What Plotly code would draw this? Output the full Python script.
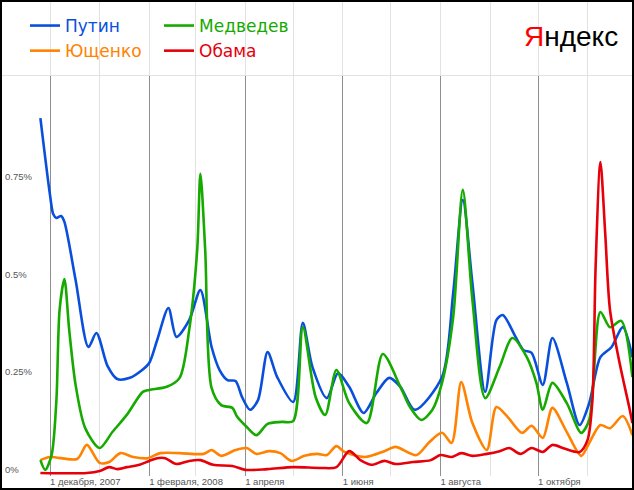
import plotly.graph_objects as go

# ---------------- data (values in %) ----------------
putin_dates = ["2007-11-25","2007-12-01","2007-12-03","2007-12-05","2007-12-08","2007-12-10","2007-12-17",
               "2007-12-25","2007-12-30","2008-01-06","2008-01-12","2008-01-20","2008-01-27","2008-02-01",
               "2008-02-06","2008-02-13","2008-02-18","2008-02-26","2008-03-04","2008-03-11","2008-03-16",
               "2008-03-21","2008-03-26","2008-03-30","2008-04-04","2008-04-09","2008-04-15","2008-04-21",
               "2008-05-01","2008-05-07","2008-05-13","2008-05-22","2008-05-29","2008-06-05","2008-06-14",
               "2008-06-22","2008-06-30","2008-07-07","2008-07-16","2008-08-02","2008-08-09","2008-08-15",
               "2008-08-21","2008-08-29","2008-09-05","2008-09-09","2008-09-17","2008-09-22","2008-09-27",
               "2008-10-04","2008-10-10","2008-10-19","2008-10-27","2008-11-02","2008-11-09","2008-11-16",
               "2008-11-23","2008-11-29"]
putin_vals = [0.910,0.713,0.664,0.654,0.659,0.644,0.495,
              0.323,0.359,0.274,0.241,0.244,0.262,0.282,
              0.341,0.423,0.349,0.392,0.469,0.323,0.264,
              0.238,0.236,0.195,0.162,0.187,0.310,0.246,
              0.182,0.385,0.272,0.192,0.256,0.221,0.154,
              0.205,0.244,0.221,0.162,0.246,0.462,0.700,
              0.487,0.208,0.392,0.405,0.349,0.315,0.308,
              0.226,0.346,0.231,0.123,0.179,0.297,0.323,
              0.374,0.297]

medvedev_dates = ["2007-11-25","2007-11-28","2007-12-02","2007-12-05","2007-12-07","2007-12-10","2007-12-13",
                  "2007-12-17","2007-12-23","2008-01-01","2008-01-09","2008-01-18","2008-01-28","2008-02-01",
                  "2008-02-12","2008-02-20","2008-02-26","2008-03-02","2008-03-04","2008-03-07","2008-03-11",
                  "2008-03-17","2008-03-24","2008-03-27","2008-04-02","2008-04-08","2008-04-15","2008-04-24",
                  "2008-05-01","2008-05-07","2008-05-15","2008-05-21","2008-05-28","2008-06-05","2008-06-16",
                  "2008-06-26","2008-07-07","2008-07-13","2008-07-20","2008-07-27","2008-08-02","2008-08-09",
                  "2008-08-15","2008-08-21","2008-08-29","2008-09-07","2008-09-15","2008-09-24","2008-09-30",
                  "2008-10-04","2008-10-10","2008-10-19","2008-10-28","2008-11-02","2008-11-09","2008-11-15",
                  "2008-11-22","2008-11-29"]
medvedev_vals = [0.033,0.008,0.046,0.187,0.418,0.497,0.367,
                 0.226,0.115,0.064,0.105,0.149,0.208,0.213,
                 0.221,0.244,0.367,0.572,0.767,0.572,0.218,
                 0.174,0.167,0.144,0.118,0.097,0.126,0.131,
                 0.133,0.374,0.195,0.149,0.264,0.179,0.128,
                 0.305,0.221,0.169,0.136,0.162,0.231,0.400,
                 0.726,0.444,0.192,0.272,0.346,0.297,0.231,
                 0.162,0.231,0.179,0.103,0.136,0.413,0.374,
                 0.390,0.246]

yushchenko_dates = ["2007-11-25","2007-12-01","2007-12-18","2007-12-24","2008-01-01","2008-01-07","2008-01-14",
                    "2008-01-22","2008-01-31","2008-02-08","2008-02-20","2008-03-06","2008-03-11","2008-03-17",
                    "2008-03-26","2008-04-02","2008-04-08","2008-04-16","2008-04-23","2008-04-30","2008-05-08",
                    "2008-05-16","2008-05-22","2008-05-28","2008-06-02","2008-06-15","2008-06-27","2008-07-04",
                    "2008-07-17","2008-07-25","2008-08-02","2008-08-08","2008-08-14","2008-08-21","2008-08-30",
                    "2008-09-05","2008-09-12","2008-09-21","2008-09-27","2008-10-04","2008-10-10","2008-10-19",
                    "2008-10-28","2008-11-02","2008-11-09","2008-11-15","2008-11-23","2008-11-29"]
yushchenko_vals = [0.033,0.041,0.036,0.072,0.026,0.028,0.051,
                   0.041,0.038,0.051,0.051,0.049,0.059,0.044,
                   0.059,0.064,0.049,0.056,0.051,0.031,0.044,
                   0.049,0.046,0.069,0.054,0.041,0.056,0.067,
                   0.046,0.079,0.103,0.077,0.233,0.128,0.059,
                   0.169,0.144,0.103,0.121,0.090,0.167,0.105,
                   0.044,0.077,0.123,0.115,0.146,0.097]

obama_dates = ["2007-11-25","2007-12-24","2008-01-01","2008-01-07","2008-01-12","2008-01-18","2008-01-26",
               "2008-02-01","2008-02-06","2008-02-11","2008-02-18","2008-02-26","2008-03-04","2008-03-12",
               "2008-03-24","2008-04-01","2008-04-15","2008-05-01","2008-05-18","2008-05-28","2008-06-05",
               "2008-06-12","2008-06-19","2008-06-27","2008-07-04","2008-07-15","2008-07-26","2008-08-01",
               "2008-08-08","2008-08-14","2008-08-21","2008-08-30","2008-09-07","2008-09-13","2008-09-20",
               "2008-09-27","2008-10-04","2008-10-10","2008-10-18","2008-10-27","2008-11-01","2008-11-04",
               "2008-11-06","2008-11-09","2008-11-12","2008-11-15","2008-11-21","2008-11-27","2008-11-29"]
obama_vals = [0.000,0.000,0.005,0.015,0.010,0.015,0.021,
              0.031,0.038,0.038,0.023,0.031,0.033,0.021,
              0.018,0.008,0.010,0.015,0.013,0.015,0.056,
              0.033,0.021,0.031,0.023,0.028,0.033,0.046,
              0.041,0.051,0.044,0.049,0.056,0.064,0.049,
              0.064,0.054,0.072,0.062,0.054,0.085,0.187,
              0.528,0.797,0.615,0.418,0.282,0.169,0.128]

tick_dates = ["2007-12-01", "2008-02-01", "2008-04-01", "2008-06-01", "2008-08-01", "2008-10-01"]
tick_labels = ["1 декабря, 2007", "1 февраля, 2008", "1 апреля", "1 июня", "1 августа", "1 октября"]
y_tick_vals = [0, 0.25, 0.5, 0.75]
y_tick_labels = ["0%", "0.25%", "0.5%", "0.75%"]

# ---------------- styling / geometry ----------------
W, H = 634, 490
L, R, T, B = 2, 2, 1, 14
PW, PH = W - L - R, H - T - B


def px_x(p):
    return (p - L) / PW


def px_y(p):
    return (H - B - p) / PH


ZERO_PX = 473
PX_PER_PCT = 390
SPLIT_PX = 75
BOTTOM_PX = H - B

C_BLUE = "#0a4fdc"
C_ORANGE = "#ff8200"
C_GREEN = "#16aa00"
C_RED = "#e6000a"

fig = go.Figure()


def add(name, xs, ys, color, legend):
    fig.add_trace(go.Scatter(
        x=xs, y=ys, mode="lines", line=dict(color=color, width=2.6, shape="spline", smoothing=0.8),
        name=f'<span style="color:{color}">{name}</span>', legend=legend, hoverinfo="skip"))


add("Путин", putin_dates, putin_vals, C_BLUE, "legend")
add("Ющенко", yushchenko_dates, yushchenko_vals, C_ORANGE, "legend")
add("Медведев", medvedev_dates, medvedev_vals, C_GREEN, "legend2")
add("Обама", obama_dates, obama_vals, C_RED, "legend2")

x_range = ["2007-11-01", "2008-11-28 18:00"]
tick_font = dict(family="Liberation Sans, Arial, sans-serif", size=9.5, color="#555555")
legend_font = dict(family="DejaVu Sans, Verdana, sans-serif", size=17)

fig.update_layout(
    width=W, height=H,
    margin=dict(l=L, r=R, t=T, b=B, pad=0),
    paper_bgcolor="white", plot_bgcolor="white",
    xaxis=dict(
        type="date", range=x_range, anchor="y",
        tickmode="array", tickvals=tick_dates, ticktext=tick_labels,
        ticklabelposition="outside right", ticks="", tickfont=tick_font,
        ticklabelstandoff=-2,
        showgrid=True, gridcolor="#8f8f8f", gridwidth=1,
        minor=dict(dtick="M1", tick0="2007-12-01", showgrid=True, gridcolor="#e2e2e2", gridwidth=1),
        showline=False, zeroline=False,
    ),
    yaxis=dict(
        domain=[0, px_y(SPLIT_PX)],
        range=[(ZERO_PX - BOTTOM_PX) / PX_PER_PCT, (ZERO_PX - SPLIT_PX) / PX_PER_PCT],
        tickmode="array", tickvals=y_tick_vals, ticktext=y_tick_labels,
        ticklabelposition="inside top", ticks="", tickfont=tick_font,
        ticklabelshift=3,
        showgrid=False, zeroline=False, showline=False,
    ),
    xaxis2=dict(
        type="date", matches="x", anchor="y2", showticklabels=False, ticks="",
        dtick="M1", tick0="2007-12-01",
        showgrid=True, gridcolor="#e2e2e2", gridwidth=1,
        showline=True, linecolor="#e2e2e2", linewidth=1, zeroline=False,
    ),
    yaxis2=dict(
        domain=[px_y(SPLIT_PX), 1], range=[0, 1], anchor="x2",
        showticklabels=False, showgrid=False, zeroline=False, showline=False, ticks="",
    ),
    legend=dict(x=px_x(25), y=px_y(8), xanchor="left", yanchor="top",
                bgcolor="rgba(0,0,0,0)", font=legend_font, orientation="v", tracegroupgap=0),
    legend2=dict(x=px_x(159), y=px_y(8), xanchor="left", yanchor="top",
                 bgcolor="rgba(0,0,0,0)", font=legend_font, orientation="v", tracegroupgap=0),
    showlegend=True,
)

# empty trace so the top strip subplot exists
fig.add_trace(go.Scatter(x=[], y=[], xaxis="x2", yaxis="y2", showlegend=False, hoverinfo="skip"))

# Yandex logo
fig.add_annotation(
    xref="paper", yref="paper", x=px_x(522), y=px_y(37), xanchor="left", yanchor="middle",
    text='<span style="color:#ff0000">Я</span>ндекс', showarrow=False,
    font=dict(family="Liberation Sans, Arial, sans-serif", size=28, color="#000000"),
)

# outer black frame
fig.add_shape(type="rect", xref="paper", yref="paper",
              x0=px_x(1), x1=px_x(633), y0=px_y(489), y1=px_y(1),
              line=dict(color="black", width=2), fillcolor="rgba(0,0,0,0)", layer="above")

fig.write_html("out.html", config={"displayModeBar": False},
               post_script="document.body.style.margin='0px';")
